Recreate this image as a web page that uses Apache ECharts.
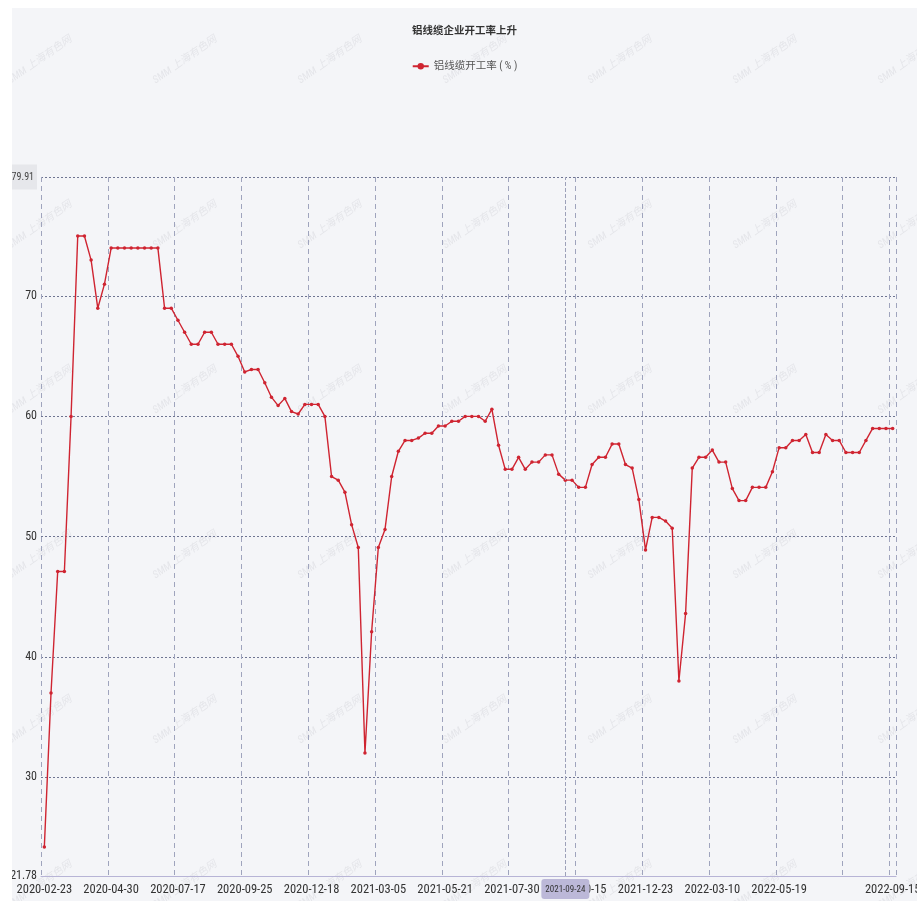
<!DOCTYPE html>
<html>
<head>
<meta charset="utf-8">
<script src="https://cdn.jsdelivr.net/npm/echarts@6/dist/echarts.min.js"></script>
<style>
html,body{margin:0;padding:0;background:#ffffff;width:917px;height:901px;overflow:hidden;}
#c{position:absolute;left:12px;top:8px;width:905px;height:893px;background:#f4f5f8;}
</style>
</head>
<body>
<div id="c"></div>
<script>
// ---- data ----
const titleText = '铝线缆企业开工率上升';
const seriesName = '铝线缆开工率 ( % )';
const categories = [
'2020-02-23','2020-02-28','2020-03-06','2020-03-13','2020-03-20','2020-03-27','2020-04-03','2020-04-10','2020-04-17','2020-04-24',
'2020-04-30','2020-05-08','2020-05-15','2020-05-22','2020-05-29','2020-06-05','2020-06-12','2020-06-19','2020-07-03','2020-07-10',
'2020-07-17','2020-07-24','2020-07-31','2020-08-07','2020-08-14','2020-08-21','2020-08-28','2020-09-04','2020-09-11','2020-09-18',
'2020-09-25','2020-10-09','2020-10-16','2020-10-23','2020-10-30','2020-11-06','2020-11-13','2020-11-20','2020-11-27','2020-12-11',
'2020-12-18','2020-12-25','2020-12-31','2021-01-08','2021-01-15','2021-01-22','2021-01-29','2021-02-05','2021-02-19','2021-02-26',
'2021-03-05','2021-03-12','2021-03-19','2021-03-26','2021-04-02','2021-04-09','2021-04-16','2021-04-23','2021-04-30','2021-05-14',
'2021-05-21','2021-05-28','2021-06-04','2021-06-11','2021-06-18','2021-06-25','2021-07-02','2021-07-09','2021-07-16','2021-07-23',
'2021-07-30','2021-08-06','2021-08-13','2021-08-20','2021-08-27','2021-09-03','2021-09-10','2021-09-17','2021-09-24','2021-10-08',
'2021-10-15','2021-10-22','2021-10-29','2021-11-05','2021-11-12','2021-11-19','2021-11-26','2021-12-03','2021-12-10','2021-12-17',
'2021-12-23','2021-12-30','2022-01-06','2022-01-13','2022-01-20','2022-01-27','2022-02-10','2022-02-17','2022-02-24','2022-03-03',
'2022-03-10','2022-03-17','2022-03-24','2022-03-31','2022-04-07','2022-04-14','2022-04-21','2022-04-28','2022-05-05','2022-05-12',
'2022-05-19','2022-05-26','2022-06-02','2022-06-09','2022-06-16','2022-06-23','2022-06-30','2022-07-07','2022-07-14','2022-07-21',
'2022-07-28','2022-08-04','2022-08-11','2022-08-18','2022-08-25','2022-09-01','2022-09-08','2022-09-15'
];
const rateValues = [
24.2,37.0,47.1,47.1,60.0,75.0,75.0,73.0,69.0,71.0,
74.0,74.0,74.0,74.0,74.0,74.0,74.0,74.0,69.0,69.0,
68.0,67.0,66.0,66.0,67.0,67.0,66.0,66.0,66.0,65.0,
63.7,63.9,63.9,62.8,61.6,60.9,61.5,60.4,60.2,61.0,
61.0,61.0,60.0,55.0,54.7,53.7,51.0,49.1,32.0,42.1,
49.1,50.6,55.0,57.1,58.0,58.0,58.2,58.6,58.6,59.2,
59.2,59.6,59.6,60.0,60.0,60.0,59.6,60.6,57.6,55.6,
55.6,56.6,55.6,56.2,56.2,56.8,56.8,55.2,54.7,54.7,
54.1,54.1,56.0,56.6,56.6,57.7,57.7,56.0,55.7,53.1,
48.9,51.6,51.6,51.3,50.7,38.0,43.6,55.7,56.6,56.6,
57.2,56.2,56.2,54.0,53.0,53.0,54.1,54.1,54.1,55.4,
57.4,57.4,58.0,58.0,58.5,57.0,57.0,58.5,58.0,58.0,
57.0,57.0,57.0,58.0,59.0,59.0,59.0,59.0
];
const yMin = 21.78;
const yMax = 79.91;
const pointerCategory = '2021-09-24';
const watermarkText = 'SMM 上海有色网';

// ---- chart ----
const FONT = "'Roboto Condensed','Noto Sans CJK SC',sans-serif";
const chart = echarts.init(document.getElementById('c'), null, {renderer: 'canvas'});

const marks = [];
for (let r = 0; r < 6; r++) {
  for (let k = 0; k < 7; k++) {
    marks.push({
      type: 'text',
      x: 28 + 145 * k,
      y: 52 + 165 * r,
      rotation: 35 * Math.PI / 180,
      silent: true,
      z: 0,
      style: {
        text: watermarkText,
        fill: 'rgba(120,125,140,0.13)',
        font: 'italic 10.5px ' + FONT,
        textAlign: 'center',
        textVerticalAlign: 'middle'
      }
    });
  }
}

chart.setOption({
  backgroundColor: '#f4f5f8',
  animation: false,
  textStyle: {fontFamily: FONT},
  graphic: marks,
  title: {
    text: titleText,
    left: 'center',
    top: 13,
    textStyle: {fontSize: 10.5, fontWeight: 'bold', color: '#333', fontFamily: FONT}
  },
  legend: {
    top: 48,
    left: 'center',
    itemWidth: 16,
    itemHeight: 8,
    itemGap: 6,
    textStyle: {fontSize: 10.5, color: '#555', fontFamily: FONT},
    data: [seriesName]
  },
  grid: {left: 29, top: 169, right: 21, bottom: 25, containLabel: false, outerBoundsMode: 'none'},
  xAxis: {
    type: 'category',
    data: categories,
    boundaryGap: true,
    axisLine: {show: true, lineStyle: {color: '#b7b4d6', width: 1.2}},
    axisTick: {show: false},
    axisLabel: {
      interval: 9,
      showMaxLabel: true,
      margin: 8,
      color: '#333',
      fontSize: 12.5,
      fontFamily: FONT
    },
    splitLine: {show: true, lineStyle: {color: '#9fa4bd', type: [5, 4], width: 1}},
    axisPointer: {
      show: true,
      type: 'line',
      status: 'show',
      value: categories.indexOf(pointerCategory),
      triggerTooltip: false,
      lineStyle: {color: '#9da1b9', type: 'dashed', width: 1},
      label: {
        show: true,
        backgroundColor: '#bcb8d8',
        color: '#333',
        fontSize: 9,
        fontFamily: FONT,
        padding: [6, 4, 5, 4],
        margin: 3
      }
    }
  },
  yAxis: {
    type: 'value',
    min: yMin,
    max: yMax,
    splitNumber: 5,
    axisLine: {show: false},
    axisTick: {show: false},
    axisLabel: {
      margin: 4,
      color: '#333',
      fontSize: 12,
      fontFamily: FONT,
      formatter: function (v) {
        if (Math.abs(v - yMax) < 1e-6) return '{mx|' + v + '}';
        return String(v);
      },
      rich: {
        mx: {
          fontSize: 10,
          color: '#444',
          fontFamily: FONT,
          backgroundColor: '#e6e7eb',
          padding: [8, 3, 7, 3]
        }
      }
    },
    splitLine: {show: true, lineStyle: {color: '#6f7592', type: [2, 2], width: 1}}
  },
  series: [{
    name: seriesName,
    type: 'line',
    data: rateValues,
    symbol: 'circle',
    symbolSize: 3.5,
    showSymbol: true,
    showAllSymbol: true,
    z: 3,
    lineStyle: {color: '#cf2431', width: 1.4},
    itemStyle: {color: '#cf2431'}
  }]
});
</script>
</body>
</html>
